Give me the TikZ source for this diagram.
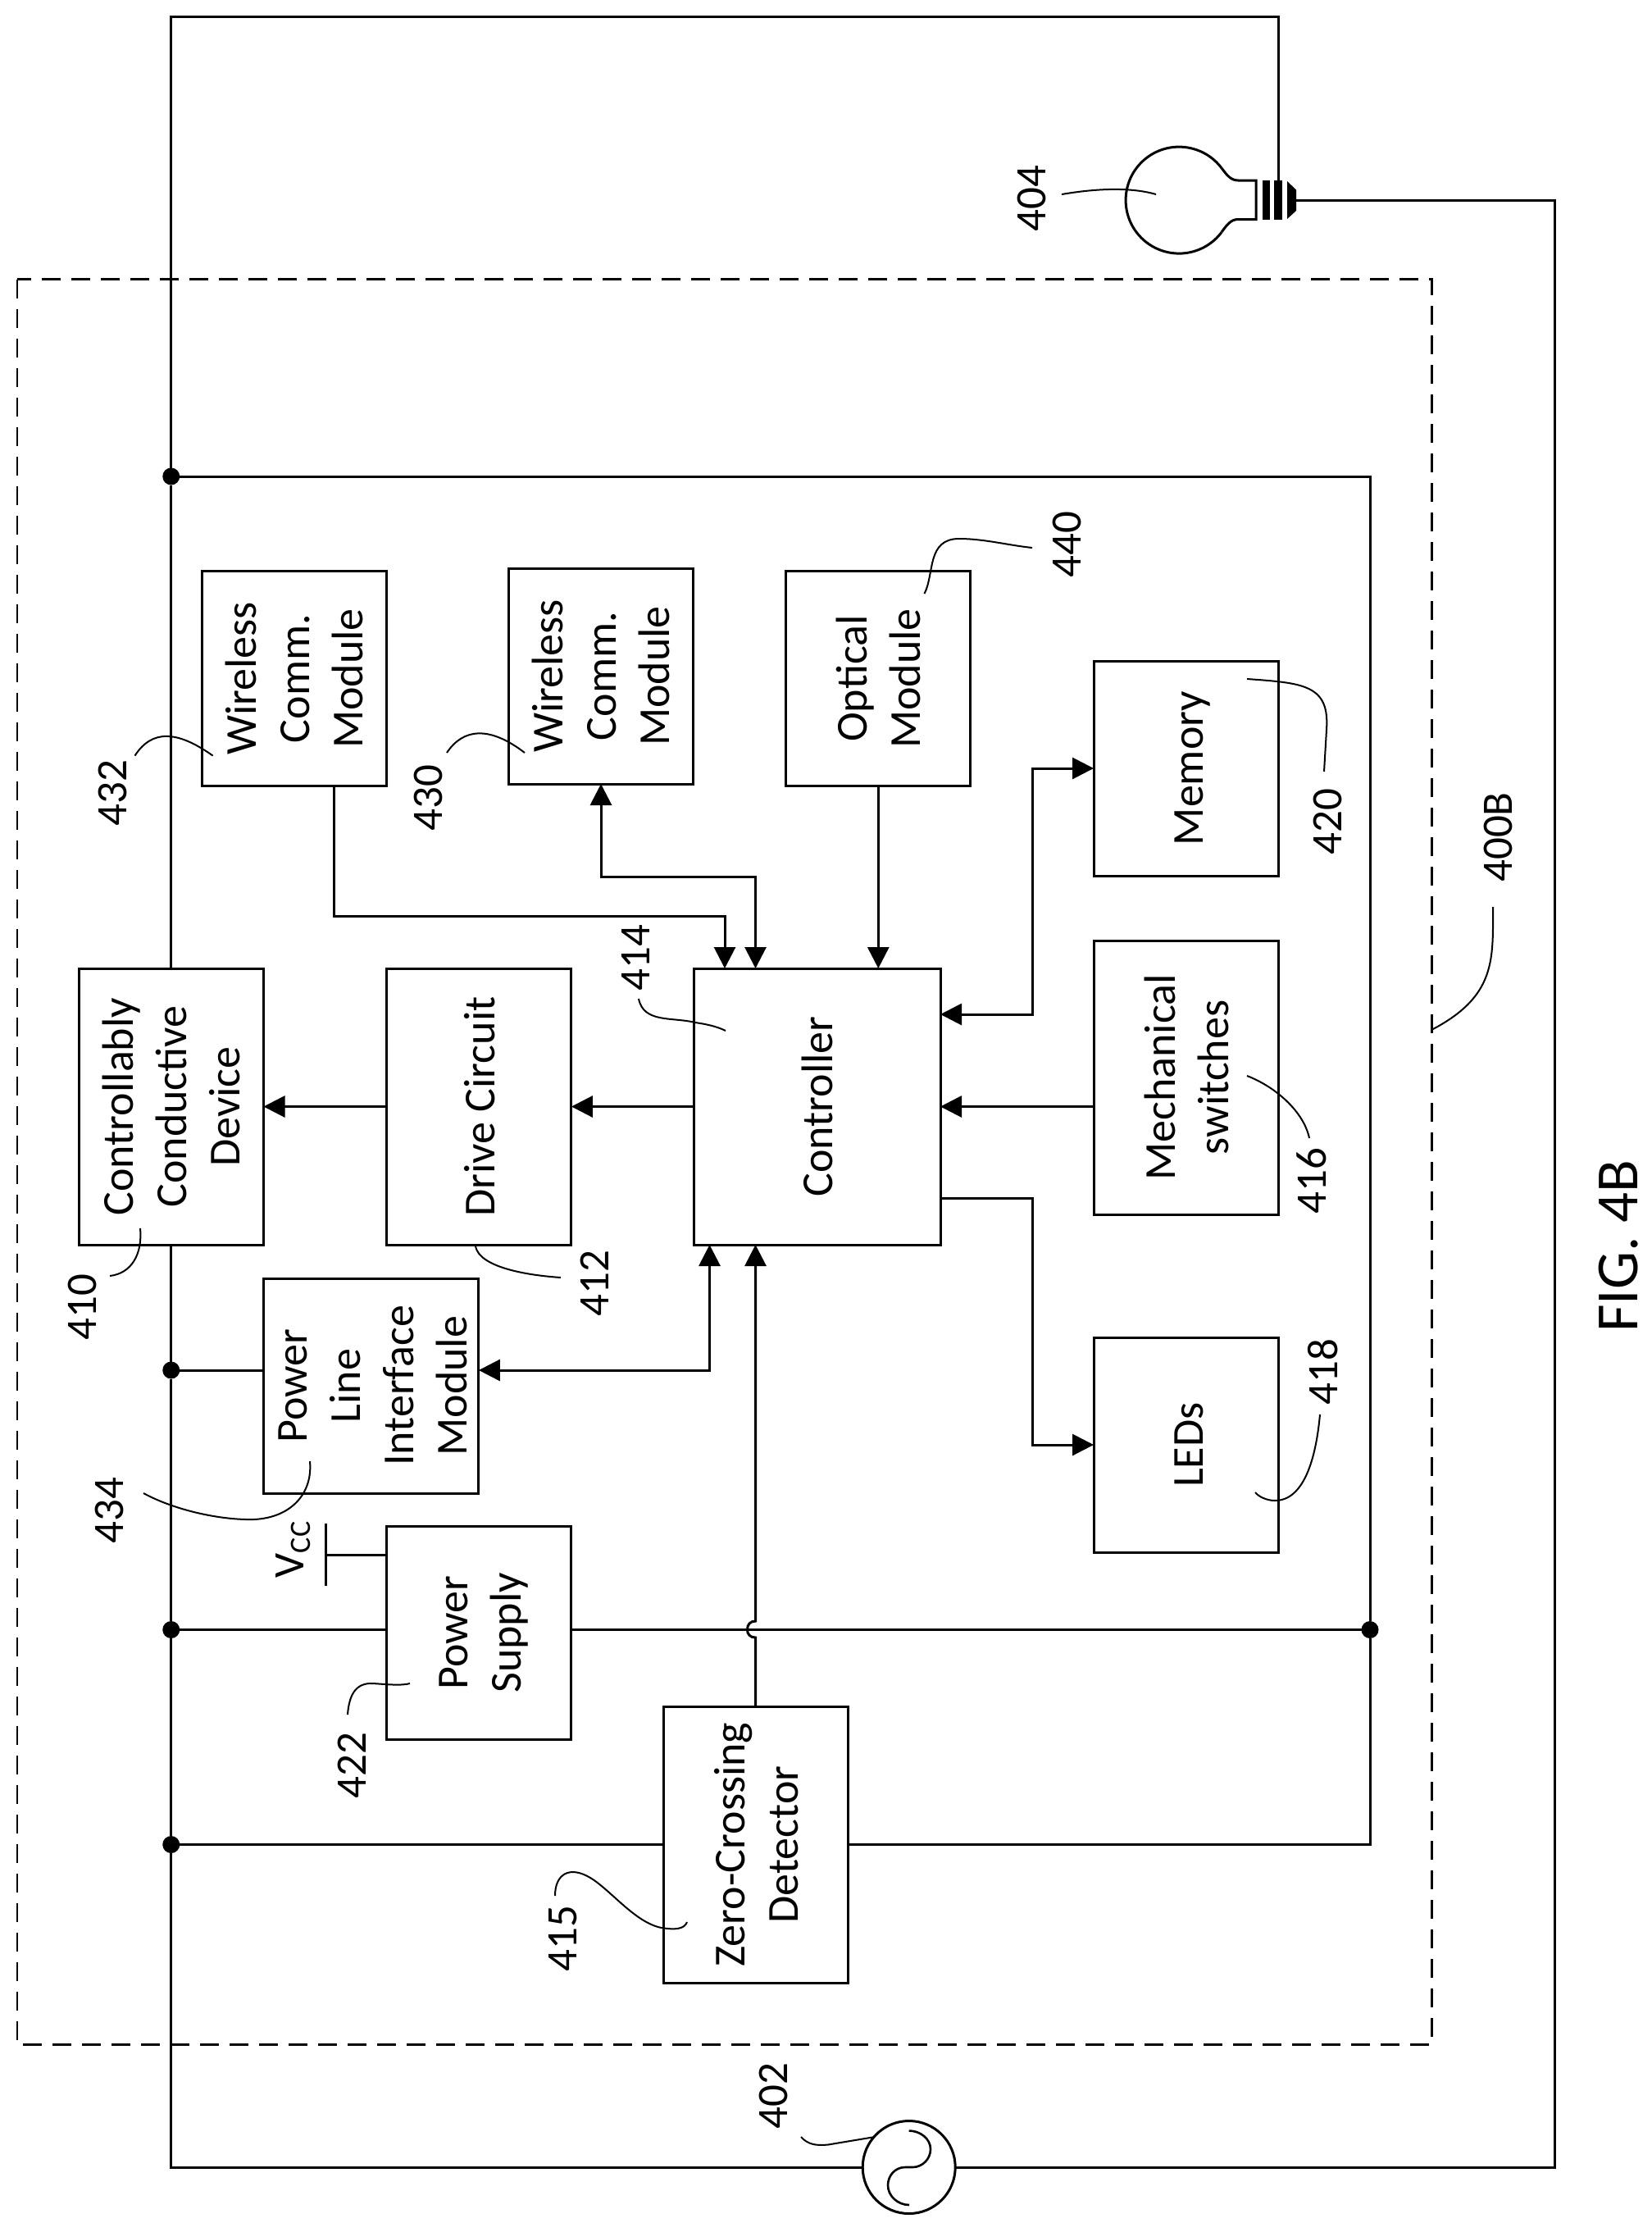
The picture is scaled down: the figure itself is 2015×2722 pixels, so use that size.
\documentclass[tikz,border=0pt]{standalone}
\usepackage{fontspec}
\usepackage{graphicx}
\setmainfont{Carlito}
\usetikzlibrary{arrows.meta}
\newcommand{\rt}[2][12pt]{\makebox[0pt][c]{\hspace*{#1}\rotatebox{90}{\begin{tabular}{@{}c@{}}#2\end{tabular}}}}
\tikzset{
  x=1pt,y=-1pt,
  box/.style={draw=black,line width=3pt,inner sep=0pt,outer sep=0pt,font=\fontsize{54}{65}\selectfont},
  wire/.style={line width=3pt,line join=miter},
  arr/.style={wire,-{Triangle[length=26pt,width=26pt]}},
  darr/.style={wire,{Triangle[length=26pt,width=26pt]}-{Triangle[length=26pt,width=26pt]}},
  lead/.style={line width=2pt},
  ref/.style={font=\fontsize{53}{65}\selectfont,rotate=90,inner sep=0pt},
  dot/.style={circle,fill=black,draw=none,minimum size=21pt,inner sep=0pt,outer sep=0pt},
  frame/.style={line width=2.7pt,dash pattern=on 23pt off 13pt},
}
\begin{document}
\begin{tikzpicture}
\useasboundingbox (0,0) rectangle (2015,2722);
\fill[white] (0,0) rectangle (2015,2722);
% outer dashed device frame
\draw[frame] (21,340.5) rectangle (1746.3,2493.5);
% boxes
\node[box,minimum width=225pt,minimum height=262pt] (w432) at (358.7,827.5) {\rt{Wireless\\Comm.\\Module}};
\node[box,minimum width=225pt,minimum height=263pt] (w430) at (732.8,824.5) {\rt{Wireless\\Comm.\\Module}};
\node[box,minimum width=225pt,minimum height=262pt] (opt) at (1071.3,827.5) {\rt{Optical\\Module}};
\node[box,minimum width=225.6pt,minimum height=262pt] (mem) at (1446.8,937) {\rt[16pt]{Memory}};
\node[box,minimum width=225.6pt,minimum height=334pt] (mech) at (1446.8,1314) {\rt{Mechanical\\switches}};
\node[box,minimum width=225.6pt,minimum height=262pt] (led) at (1446.8,1762) {\rt[16pt]{LEDs}};
\node[box,minimum width=301pt,minimum height=337pt] (ctrl) at (996.5,1349.5) {\rt{Controller}};
\node[box,minimum width=225.5pt,minimum height=337pt] (drive) at (584.2,1349.5) {\rt{Drive Circuit}};
\node[box,minimum width=225.5pt,minimum height=337pt] (ccd) at (208.75,1349.5) {\rt{Controllably\\Conductive\\Device}};
\node[box,minimum width=262.5pt,minimum height=262pt] (pli) at (452.7,1690) {\rt{Power\\Line\\Interface\\Module}};
\node[box,minimum width=225.2pt,minimum height=260.6pt] (ps) at (584,1991.3) {\rt{Power\\Supply}};
\node[box,minimum width=225pt,minimum height=337pt] (zcd) at (921.5,2249.5) {\rt{Zero-Crossing\\Detector}};
\node[circle,draw=black,line width=3pt,minimum size=113pt,inner sep=0pt,outer sep=0pt] (src) at (1108.7,2643) {};
\draw[line width=2.6pt] (1108.7,2598.5) .. controls (1122,2598.5) and (1135,2608) .. (1135,2621)
  .. controls (1135,2633) and (1125,2643) .. (1113,2643) -- (1104,2643)
  .. controls (1092,2643) and (1083,2653) .. (1083,2665)
  .. controls (1083,2678) and (1095,2689) .. (1109,2689);
% junctions
\node[dot] (j1) at (208.75,581) {};
\node[dot] (j2) at (208.75,1671) {};
\node[dot] (j3) at (208.75,1987.5) {};
\node[dot] (j4) at (208.75,2249.5) {};
\node[dot] (j5) at (1671,1987.5) {};
% named corners and ports
\coordinate (tl) at (208.75,21);
\coordinate (tr) at (1559,21);
\coordinate (cap) at (1559,220);
\coordinate (tip) at (1581,244.7);
\coordinate (rt) at (1896.5,244.7);
\coordinate (rb) at (1896.5,2643);
\coordinate (lb) at (208.75,2643);
\coordinate (ir1) at (1671,581);
\coordinate (ir2) at (1671,2249.5);
\coordinate (p432) at (407,958.5);
\coordinate (b432) at (407,1117.5);
\coordinate (a884) at (884,1181);
\coordinate (b884) at (884,1117.5);
\coordinate (a733) at (733,956);
\coordinate (b733) at (733,1069);
\coordinate (a921) at (921.5,1181);
\coordinate (b921) at (921.5,1069);
\coordinate (c921) at (921.5,1518);
\coordinate (bu) at (921.5,1977);
\coordinate (bd) at (921.5,1997);
\coordinate (a865) at (865.5,1518);
\coordinate (b865) at (865.5,1671);
\coordinate (pr) at (583.9,1671);
\coordinate (pl) at (321.5,1671);
\coordinate (m1) at (1147,1237);
\coordinate (m2) at (1259,1237);
\coordinate (m3) at (1259,937);
\coordinate (l1) at (1147,1461.5);
\coordinate (l2) at (1259,1461.5);
\coordinate (l3) at (1259,1762);
\coordinate (v1) at (471.4,1896);
\coordinate (v2) at (397,1896);
\coordinate (v3) at (397,1858);
\coordinate (v4) at (397,1934);
\coordinate (psl) at (471.4,1987.5);
\coordinate (psr) at (696.6,1987.5);
% power wiring
\draw[wire] (ccd.north) -- (j1) -- (tl) -- (tr) -- (cap);
\draw[wire] (j1) -- (ir1) -- (j5) -- (ir2) -- (zcd.east);
\draw[wire] (ccd.south) -- (j2) -- (j3) -- (j4) -- (lb) -- (src.west);
\draw[wire] (src.east) -- (rb) -- (rt) -- (tip);
\draw[wire] (j2) -- (pl);
\draw[wire] (j3) -- (psl);
\draw[wire] (psr) -- (j5);
\draw[wire] (j4) -- (zcd.west);
\draw[wire] (v1) -- (v2);
\draw[wire] (v3) -- (v4);
% signal connectors
\draw[arr] (ctrl.west) -- (drive.east);
\draw[arr] (drive.west) -- (ccd.east);
\draw[arr] (p432) -- (b432) -- (b884) -- (a884);
\draw[darr] (a733) -- (b733) -- (b921) -- (a921);
\draw[arr] (opt.south) -- (opt.south |- ctrl.north);
\draw[darr] (m1) -- (m2) -- (m3) -- (mem.west);
\draw[arr] (mech.west |- ctrl.east) -- (ctrl.east);
\draw[arr] (l1) -- (l2) -- (l3) -- (led.west);
\draw[darr] (a865) -- (b865) -- (pr);
\draw[arr] (zcd.north) -- (bd) .. controls (915,1997) and (911.5,1993) .. (911.5,1987.5) .. controls (911.5,1981) and (915,1977) .. (bu) -- (c921);
% lamp
\draw[line width=3pt] (1490,205) arc[start angle=-37,end angle=-323,radius=65];
\draw[line width=3pt,line join=miter] (1490,205) .. controls (1496,213) and (1501,220) .. (1510,220) -- (1532,220) -- (1532,267.5) -- (1510,267.5) .. controls (1501,267.5) and (1496,275) .. (1490,283);
\fill (1539.5,220) rectangle (1549,267.5);
\fill (1554,220) rectangle (1564,267.5);
\fill (1570,221) -- (1581,231.5) -- (1581,257) -- (1570,267) -- cycle;
% leader curves
\draw[lead] (1295,237) .. controls (1330,231) and (1375,227) .. (1410,237);
\draw[lead] (164.5,921.6) .. controls (185,890) and (215,890) .. (259.6,921.6);
\draw[lead] (545,918) .. controls (565,888) and (597,885) .. (640,918);
\draw[lead] (1127.5,724) .. controls (1140,700) and (1130,657) .. (1170,657) .. controls (1200,657) and (1230,665) .. (1259,668);
\draw[lead] (1521,828) .. controls (1590,833) and (1622,835) .. (1618,890) -- (1615,941);
\draw[lead] (1521,1312) .. controls (1555,1325) and (1590,1355) .. (1597,1388);
\draw[lead] (1821,1106) .. controls (1821,1170) and (1825,1215) .. (1746,1256);
\draw[lead] (1610,1725) .. controls (1605,1780) and (1590,1830) .. (1555,1830) .. controls (1545,1830) and (1535,1825) .. (1531,1820);
\draw[lead] (779,1218) .. controls (785,1248) and (820,1240) .. (848,1247) .. controls (862,1249) and (875,1252) .. (885,1257);
\draw[lead] (171,1498) .. controls (174,1530) and (160,1553) .. (134,1556);
\draw[lead] (580,1520) .. controls (585,1545) and (640,1555) .. (684,1558);
\draw[lead] (378,1782) .. controls (382,1825) and (350,1855) .. (300,1853) .. controls (260,1852) and (210,1840) .. (175,1821);
\draw[lead] (424,2091) .. controls (426,2065) and (435,2052) .. (455,2053) .. controls (470,2054) and (490,2056) .. (500,2053);
\draw[lead] (677,2312) .. controls (677,2285) and (695,2275) .. (720,2290) .. controls (745,2305) and (775,2345) .. (807,2351) .. controls (825,2354) and (835,2352) .. (838,2344);
\draw[lead] (977,2606) .. controls (985,2615) and (995,2617) .. (1010,2615.5) -- (1067,2606);
% reference numerals
\node[ref] (r404) at (1258,242) {404};
\node[ref] (r432) at (137,967) {432};
\node[ref] (r430) at (522,973) {430};
\node[ref] (r440) at (1301,664) {440};
\node[ref] (r420) at (1619.5,1002) {420};
\node[ref] (r400) at (1827,1021) {400B};
\node[ref] (r416) at (1600,1440) {416};
\node[ref] (r414) at (775,1168) {414};
\node[ref] (r410) at (100,1594) {410};
\node[ref] (r412) at (725,1565) {412};
\node[ref] (r418) at (1614,1673) {418};
\node[ref] (r434) at (133,1842) {434};
\node[ref] (r422) at (429,2153) {422};
\node[ref] (r415) at (687,2364) {415};
\node[ref] (r402) at (943,2556) {402};
\node[ref] (rvcc) at (358,1890) {V\raisebox{-8pt}{\fontsize{36}{40}\selectfont CC}};
\node[rotate=90,inner sep=0pt,font=\fontsize{73}{80}\selectfont] (fig) at (1974,1520) {FIG. 4B};
\end{tikzpicture}
\end{document}
